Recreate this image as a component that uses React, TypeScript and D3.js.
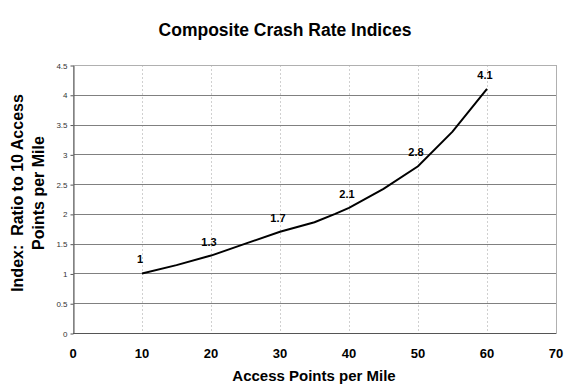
import React, { useRef, useEffect } from 'react';
import * as d3 from 'd3';

// curve vertices
const curveX = [10, 15, 20, 25, 30, 35, 38, 40, 45, 50, 55, 60];
const curveY = [1.0, 1.14, 1.3, 1.5, 1.7, 1.86, 2.0, 2.1, 2.42, 2.8, 3.38, 4.1];

// labelled points
const labelX = [10, 20, 30, 40, 50, 60];
const labelY = [1, 1.3, 1.7, 2.1, 2.8, 4.1];
const labelText = ['1', '1.3', '1.7', '2.1', '2.8', '4.1'];

const xTicks = [0, 10, 20, 30, 40, 50, 60, 70];
const yTicks = [0, 0.5, 1, 1.5, 2, 2.5, 3, 3.5, 4, 4.5];

const App = () => {
    const ref = useRef<SVGSVGElement>(null);

    useEffect(() => {
        const svg = d3.select(ref.current);
        svg.selectAll('*').remove();

        const left = 73, right = 556, top = 65, bottom = 333;
        const font = 'Liberation Sans, Arial, sans-serif';

        const x = d3.scaleLinear().domain([0, 70]).range([left, right]);
        const y = d3.scaleLinear().domain([0, 4.5]).range([bottom, top]);

        svg.append('rect')
            .attr('width', 570).attr('height', 390).attr('fill', '#fff');

        // vertical dotted grid
        svg.append('g').selectAll('line')
            .data(xTicks.slice(1, -1))
            .enter().append('line')
            .attr('x1', d => x(d) + 0.5).attr('x2', d => x(d) + 0.5)
            .attr('y1', top).attr('y2', bottom)
            .attr('stroke', '#d0d0d0')
            .attr('stroke-dasharray', '2,2');

        // horizontal grid
        svg.append('g').selectAll('line')
            .data(yTicks.slice(1, -1))
            .enter().append('line')
            .attr('x1', left).attr('x2', right)
            .attr('y1', d => Math.round(y(d)) + 0.5).attr('y2', d => Math.round(y(d)) + 0.5)
            .attr('stroke', '#808080');

        // plot border
        svg.append('rect')
            .attr('x', left + 0.5).attr('y', Math.round(top) + 0.5)
            .attr('width', right - left).attr('height', bottom - Math.round(top))
            .attr('fill', 'none').attr('stroke', '#b0b0b0');

        // y axis
        const yAxis = svg.append('g')
            .attr('transform', `translate(${left + 0.5},0.5)`)
            .call(d3.axisLeft(y).tickValues(yTicks).tickSize(3).tickSizeOuter(0).tickFormat(d3.format('')));
        yAxis.select('.domain').attr('stroke', '#555');
        yAxis.selectAll('.tick line').attr('stroke', '#555');
        yAxis.selectAll('text')
            .attr('font-family', font).attr('font-size', 8).attr('fill', '#333');

        // x axis line
        svg.append('line')
            .attr('x1', left).attr('x2', right)
            .attr('y1', bottom + 0.5).attr('y2', bottom + 0.5)
            .attr('stroke', '#555');

        svg.append('g').selectAll('text')
            .data(xTicks)
            .enter().append('text')
            .attr('x', d => x(d))
            .attr('y', 358)
            .attr('text-anchor', 'middle')
            .attr('font-family', font).attr('font-size', 13).attr('font-weight', 'bold')
            .text(d => d);

        // line
        const line = d3.line<number>()
            .x((d, i) => x(curveX[i]))
            .y(d => y(d));
        svg.append('path')
            .datum(curveY)
            .attr('d', line)
            .attr('fill', 'none')
            .attr('stroke', '#000')
            .attr('stroke-width', 2);

        // data labels
        svg.append('g').selectAll('text')
            .data(labelY)
            .enter().append('text')
            .attr('x', (d, i) => x(labelX[i]) - 2)
            .attr('y', d => y(d) - 10)
            .attr('text-anchor', 'middle')
            .attr('font-family', font).attr('font-size', 11).attr('font-weight', 'bold')
            .text((d, i) => labelText[i]);

        // titles
        svg.append('text')
            .attr('x', 285).attr('y', 36)
            .attr('text-anchor', 'middle')
            .attr('font-family', font).attr('font-size', 17.5).attr('font-weight', 'bold')
            .text('Composite Crash Rate Indices');

        svg.append('text')
            .attr('x', 314).attr('y', 381)
            .attr('text-anchor', 'middle')
            .attr('font-family', font).attr('font-size', 15).attr('font-weight', 'bold')
            .text('Access Points per Mile');

        const yt = svg.append('text')
            .attr('transform', 'translate(23,193) rotate(-90)')
            .attr('text-anchor', 'middle')
            .attr('font-family', font).attr('font-size', 16).attr('font-weight', 'bold');
        yt.append('tspan').attr('x', 0).attr('y', 0).attr('xml:space', 'preserve').text('Index:  Ratio to 10 Access');
        yt.append('tspan').attr('x', 0).attr('y', 21).text('Points per Mile');
    }, []);

    return (
        <svg ref={ref} width={570} height={390}
            style={{ position: 'absolute', left: 0, top: 0 }} />
    );
};

export default App;
